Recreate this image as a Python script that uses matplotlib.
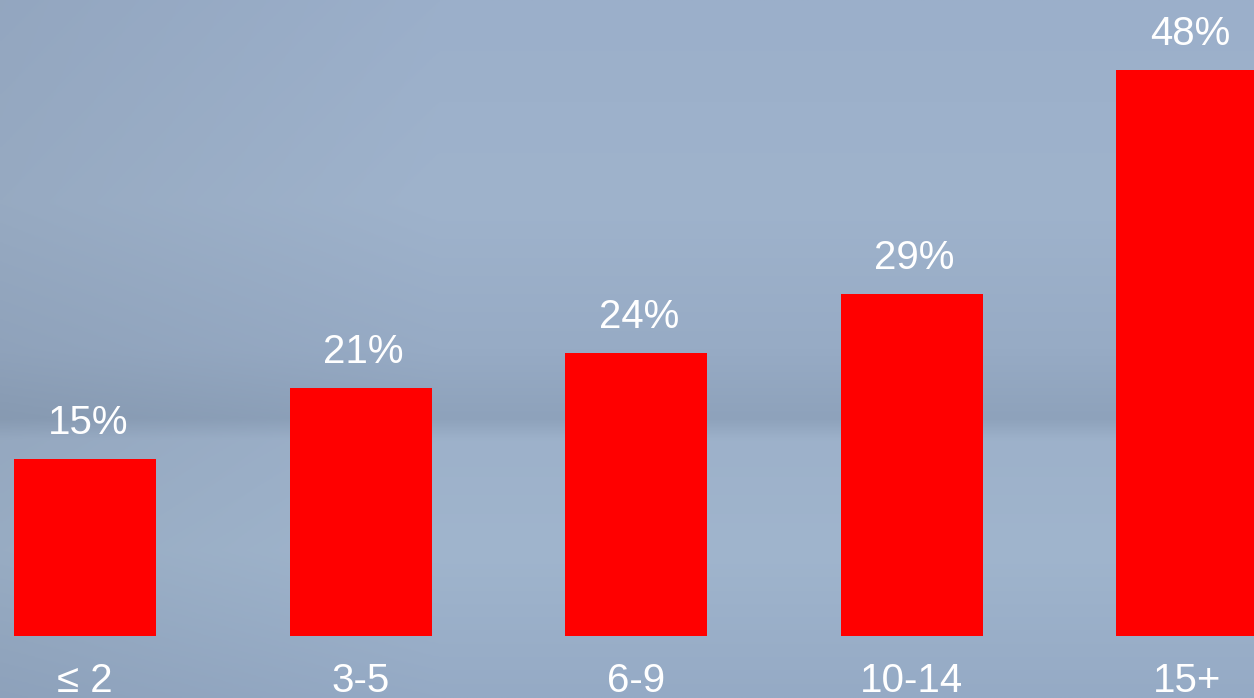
import numpy as np
import matplotlib.pyplot as plt
from matplotlib.colors import to_rgb

plt.rcParams['font.family'] = ['Liberation Sans', 'DejaVu Sans']

categories = ['≤ 2', '3-5', '6-9', '10-14', '15+']
shares = [15, 21, 24, 29, 48]
bar_color = '#ff0000'

fig = plt.figure(figsize=(12.54, 6.98), dpi=100)
ax = fig.add_axes([0, 0, 1, 1])

# soft grey-blue backdrop: vertical colour stops plus a darker left edge
stops_y = [0.0, 0.29, 0.50, 0.60, 0.63, 0.79, 1.0]
stops_c = ['#9bafca', '#9fb3cc', '#97abc5', '#8ea2bb', '#9db1ca', '#a0b5cd', '#95aac5']
rgb = np.array([to_rgb(c) for c in stops_c])
yy = np.linspace(0, 1, 300)
col = np.stack([np.interp(yy, stops_y, rgb[:, k]) for k in range(3)], axis=-1)
xx = np.linspace(0, 1, 400)
shade = 1 - 0.05 * np.clip(1 - xx / 0.35, 0, 1)
bg = col[:, None, :] * shade[None, :, None]

x = np.arange(len(categories))
xlim = (-0.309, 4.243)
ylim = (-5.25, 53.9)
ax.imshow(bg, extent=(xlim[0], xlim[1], ylim[0], ylim[1]), origin='upper',
          aspect='auto', zorder=0)

ax.bar(x, shares, width=0.515, color=bar_color, zorder=2)

for xi, v in zip(x, shares):
    ax.text(xi + 0.01, v + 2.1, f'{v}%', ha='center', va='baseline',
            color='white', fontsize=29, zorder=3)

for xi, lab in zip(x, categories):
    ax.text(xi, -4.7, lab, ha='center', va='baseline',
            color='white', fontsize=29, zorder=3)

ax.set_xlim(*xlim)
ax.set_ylim(*ylim)
ax.axis('off')

fig.savefig('out.png', dpi=100)
